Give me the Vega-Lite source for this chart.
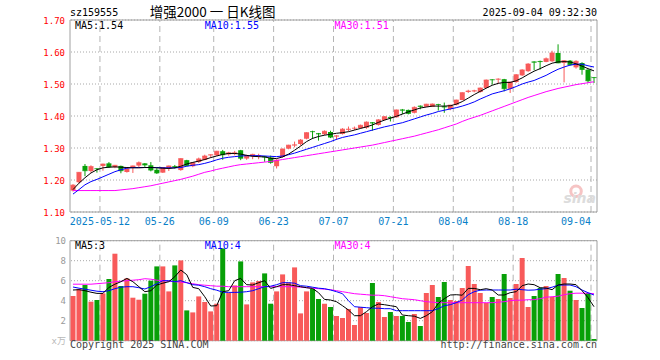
{
"$schema": "https://vega.github.io/schema/vega-lite/v6.json",
"width": 527,
"height": 321,
"autosize": {"type": "none"},
"padding": {"left": 70, "top": 20, "right": 63, "bottom": 19},
"background": "white",
"config": {"view": {"stroke": null}, "font": "DejaVu Sans Mono", "text": {"font": "DejaVu Sans Mono", "fontSize": 10}},
"datasets": {
"grid": [{"g": "2025-05-12", "lab": "2025-05-12"}, {"g": "2025-05-26", "lab": "05-26"}, {"g": "2025-06-09", "lab": "06-09"}, {"g": "2025-06-23", "lab": "06-23"}, {"g": "2025-07-07", "lab": "07-07"}, {"g": "2025-07-21", "lab": "07-21"}, {"g": "2025-08-04", "lab": "08-04"}, {"g": "2025-08-18", "lab": "08-18"}, {"g": "2025-09-04", "lab": "09-04"}],
"pt": [{"p": 1.1}, {"p": 1.2}, {"p": 1.3}, {"p": 1.4}, {"p": 1.5}, {"p": 1.6}, {"p": 1.7}],
"vt": [{"q": 0, "lab": "x万"}, {"q": 2, "lab": "2"}, {"q": 4, "lab": "4"}, {"q": 6, "lab": "6"}, {"q": 8, "lab": "8"}, {"q": 10, "lab": "10"}],
"k": [
{"d":"2025-04-30","o":1.167,"h":1.187,"l":1.164,"c":1.184,"v":4.47,"m5":1.170,"m10":1.156,"m30":1.167,"v5":5.07,"v10":5.37,"v30":5.65},
{"d":"2025-05-06","o":1.193,"h":1.225,"l":1.190,"c":1.224,"v":5.17,"m5":1.190,"m10":1.170,"m30":1.167,"v5":5.1,"v10":5.25,"v30":5.65},
{"d":"2025-05-07","o":1.244,"h":1.250,"l":1.212,"c":1.229,"v":5.57,"m5":1.207,"m10":1.185,"m30":1.167,"v5":5.0,"v10":5.15,"v30":5.65},
{"d":"2025-05-08","o":1.228,"h":1.246,"l":1.223,"c":1.242,"v":3.9,"m5":1.222,"m10":1.195,"m30":1.167,"v5":4.85,"v10":5.05,"v30":5.65},
{"d":"2025-05-09","o":1.236,"h":1.237,"l":1.223,"c":1.235,"v":4.07,"m5":1.232,"m10":1.202,"m30":1.167,"v5":4.73,"v10":4.95,"v30":5.7},
{"d":"2025-05-12","o":1.244,"h":1.251,"l":1.229,"c":1.250,"v":4.73,"m5":1.238,"m10":1.210,"m30":1.167,"v5":4.73,"v10":4.9,"v30":5.75},
{"d":"2025-05-13","o":1.252,"h":1.256,"l":1.238,"c":1.241,"v":6.17,"m5":1.240,"m10":1.218,"m30":1.167,"v5":5.33,"v10":5.0,"v30":5.8},
{"d":"2025-05-14","o":1.240,"h":1.247,"l":1.237,"c":1.246,"v":8.7,"m5":1.241,"m10":1.226,"m30":1.167,"v5":5.65,"v10":5.2,"v30":5.9},
{"d":"2025-05-15","o":1.244,"h":1.245,"l":1.221,"c":1.229,"v":5.47,"m5":1.240,"m10":1.232,"m30":1.169,"v5":5.9,"v10":5.35,"v30":5.95},
{"d":"2025-05-16","o":1.225,"h":1.237,"l":1.223,"c":1.235,"v":6.23,"m5":1.239,"m10":1.237,"m30":1.171,"v5":6.23,"v10":5.4,"v30":6.0},
{"d":"2025-05-19","o":1.2375,"h":1.245,"l":1.222,"c":1.244,"v":4.3,"m5":1.238,"m10":1.239,"m30":1.173,"v5":5.9,"v10":5.4,"v30":6.05},
{"d":"2025-05-20","o":1.245,"h":1.258,"l":1.240,"c":1.254,"v":4.1,"m5":1.238,"m10":1.239,"m30":1.176,"v5":5.4,"v10":5.3,"v30":6.1},
{"d":"2025-05-21","o":1.252,"h":1.253,"l":1.241,"c":1.247,"v":4.7,"m5":1.239,"m10":1.239,"m30":1.179,"v5":4.9,"v10":5.17,"v30":6.2},
{"d":"2025-05-22","o":1.246,"h":1.256,"l":1.227,"c":1.231,"v":6.0,"m5":1.239,"m10":1.239,"m30":1.182,"v5":5.0,"v10":5.4,"v30":6.15},
{"d":"2025-05-23","o":1.232,"h":1.237,"l":1.219,"c":1.222,"v":7.43,"m5":1.238,"m10":1.239,"m30":1.186,"v5":5.57,"v10":5.7,"v30":6.05},
{"d":"2025-05-26","o":1.223,"h":1.240,"l":1.222,"c":1.239,"v":7.43,"m5":1.237,"m10":1.238,"m30":1.190,"v5":5.75,"v10":6.0,"v30":6.0},
{"d":"2025-05-27","o":1.237,"h":1.245,"l":1.228,"c":1.244,"v":4.93,"m5":1.236,"m10":1.238,"m30":1.194,"v5":5.9,"v10":6.0,"v30":5.95},
{"d":"2025-05-28","o":1.243,"h":1.247,"l":1.236,"c":1.241,"v":7.53,"m5":1.238,"m10":1.238,"m30":1.198,"v5":6.4,"v10":5.9,"v30":5.9},
{"d":"2025-05-29","o":1.231,"h":1.268,"l":1.229,"c":1.267,"v":8.03,"m5":1.243,"m10":1.239,"m30":1.202,"v5":7.07,"v10":6.0,"v30":5.85},
{"d":"2025-05-30","o":1.262,"h":1.263,"l":1.243,"c":1.245,"v":3.03,"m5":1.250,"m10":1.243,"m30":1.207,"v5":6.6,"v10":5.8,"v30":5.8},
{"d":"2025-06-03","o":1.243,"h":1.256,"l":1.240,"c":1.254,"v":2.83,"m5":1.255,"m10":1.246,"m30":1.212,"v5":5.33,"v10":5.6,"v30":5.7},
{"d":"2025-06-04","o":1.256,"h":1.270,"l":1.253,"c":1.266,"v":4.43,"m5":1.259,"m10":1.248,"m30":1.218,"v5":5.2,"v10":5.55,"v30":5.6},
{"d":"2025-06-05","o":1.263,"h":1.279,"l":1.262,"c":1.275,"v":3.87,"m5":1.264,"m10":1.252,"m30":1.224,"v5":4.4,"v10":5.4,"v30":5.55},
{"d":"2025-06-06","o":1.277,"h":1.280,"l":1.269,"c":1.279,"v":2.93,"m5":1.270,"m10":1.257,"m30":1.228,"v5":3.47,"v10":5.2,"v30":5.5},
{"d":"2025-06-09","o":1.277,"h":1.291,"l":1.275,"c":1.290,"v":3.7,"m5":1.275,"m10":1.263,"m30":1.233,"v5":3.5,"v10":5.05,"v30":5.45},
{"d":"2025-06-10","o":1.290,"h":1.294,"l":1.263,"c":1.279,"v":9.23,"m5":1.280,"m10":1.268,"m30":1.237,"v5":4.9,"v10":4.85,"v30":5.45},
{"d":"2025-06-11","o":1.280,"h":1.288,"l":1.276,"c":1.285,"v":4.77,"m5":1.283,"m10":1.271,"m30":1.241,"v5":5.0,"v10":4.83,"v30":5.4},
{"d":"2025-06-12","o":1.281,"h":1.291,"l":1.277,"c":1.285,"v":5.53,"m5":1.283,"m10":1.273,"m30":1.245,"v5":6.0,"v10":4.83,"v30":5.4},
{"d":"2025-06-13","o":1.293,"h":1.294,"l":1.262,"c":1.268,"v":7.93,"m5":1.281,"m10":1.275,"m30":1.248,"v5":6.23,"v10":4.85,"v30":5.4},
{"d":"2025-06-16","o":1.267,"h":1.279,"l":1.263,"c":1.2765,"v":3.63,"m5":1.277,"m10":1.276,"m30":1.250,"v5":5.6,"v10":4.9,"v30":5.4},
{"d":"2025-06-17","o":1.275,"h":1.282,"l":1.265,"c":1.280,"v":5.83,"m5":1.274,"m10":1.276,"m30":1.252,"v5":5.57,"v10":5.0,"v30":5.4},
{"d":"2025-06-18","o":1.2755,"h":1.282,"l":1.265,"c":1.2765,"v":5.97,"m5":1.273,"m10":1.276,"m30":1.254,"v5":5.8,"v10":5.2,"v30":5.4},
{"d":"2025-06-19","o":1.274,"h":1.2755,"l":1.257,"c":1.272,"v":6.73,"m5":1.272,"m10":1.275,"m30":1.256,"v5":6.0,"v10":5.4,"v30":5.4},
{"d":"2025-06-20","o":1.270,"h":1.276,"l":1.251,"c":1.255,"v":3.7,"m5":1.268,"m10":1.274,"m30":1.258,"v5":5.23,"v10":5.45,"v30":5.4},
{"d":"2025-06-23","o":1.243,"h":1.265,"l":1.236,"c":1.262,"v":4.93,"m5":1.267,"m10":1.273,"m30":1.261,"v5":5.4,"v10":5.6,"v30":5.4},
{"d":"2025-06-24","o":1.272,"h":1.298,"l":1.270,"c":1.297,"v":6.63,"m5":1.272,"m10":1.275,"m30":1.264,"v5":5.6,"v10":5.8,"v30":5.4},
{"d":"2025-06-25","o":1.298,"h":1.310,"l":1.296,"c":1.309,"v":5.83,"m5":1.281,"m10":1.279,"m30":1.267,"v5":5.6,"v10":5.8,"v30":5.4},
{"d":"2025-06-26","o":1.308,"h":1.320,"l":1.302,"c":1.310,"v":7.33,"m5":1.293,"m10":1.284,"m30":1.270,"v5":5.5,"v10":5.75,"v30":5.4},
{"d":"2025-06-27","o":1.3125,"h":1.328,"l":1.308,"c":1.325,"v":2.73,"m5":1.306,"m10":1.290,"m30":1.273,"v5":5.4,"v10":5.5,"v30":5.35},
{"d":"2025-06-30","o":1.329,"h":1.349,"l":1.327,"c":1.348,"v":4.93,"m5":1.320,"m10":1.296,"m30":1.276,"v5":5.3,"v10":5.45,"v30":5.3},
{"d":"2025-07-01","o":1.352,"h":1.354,"l":1.328,"c":1.351,"v":5.17,"m5":1.330,"m10":1.302,"m30":1.279,"v5":5.23,"v10":5.35,"v30":5.25},
{"d":"2025-07-02","o":1.346,"h":1.347,"l":1.323,"c":1.344,"v":4.17,"m5":1.336,"m10":1.308,"m30":1.282,"v5":4.8,"v10":5.25,"v30":5.2},
{"d":"2025-07-03","o":1.343,"h":1.355,"l":1.340,"c":1.352,"v":3.7,"m5":1.340,"m10":1.314,"m30":1.285,"v5":4.13,"v10":5.2,"v30":5.15},
{"d":"2025-07-04","o":1.350,"h":1.354,"l":1.331,"c":1.334,"v":3.37,"m5":1.343,"m10":1.320,"m30":1.288,"v5":4.07,"v10":5.07,"v30":5.1},
{"d":"2025-07-07","o":1.336,"h":1.340,"l":1.325,"c":1.338,"v":2.47,"m5":1.346,"m10":1.327,"m30":1.291,"v5":3.9,"v10":4.9,"v30":5.0},
{"d":"2025-07-08","o":1.344,"h":1.362,"l":1.342,"c":1.359,"v":2.27,"m5":1.348,"m10":1.333,"m30":1.294,"v5":3.5,"v10":4.7,"v30":4.9},
{"d":"2025-07-09","o":1.357,"h":1.367,"l":1.352,"c":1.359,"v":3.17,"m5":1.351,"m10":1.337,"m30":1.297,"v5":3.07,"v10":4.0,"v30":4.8},
{"d":"2025-07-10","o":1.361,"h":1.367,"l":1.356,"c":1.362,"v":1.57,"m5":1.356,"m10":1.341,"m30":1.300,"v5":2.5,"v10":3.4,"v30":4.7},
{"d":"2025-07-11","o":1.3625,"h":1.373,"l":1.360,"c":1.371,"v":3.37,"m5":1.361,"m10":1.346,"m30":1.303,"v5":2.5,"v10":3.35,"v30":4.65},
{"d":"2025-07-14","o":1.3635,"h":1.383,"l":1.360,"c":1.381,"v":2.77,"m5":1.366,"m10":1.351,"m30":1.306,"v5":2.9,"v10":3.3,"v30":4.6},
{"d":"2025-07-15","o":1.380,"h":1.381,"l":1.354,"c":1.378,"v":5.77,"m5":1.372,"m10":1.356,"m30":1.309,"v5":3.4,"v10":3.25,"v30":4.55},
{"d":"2025-07-16","o":1.372,"h":1.390,"l":1.370,"c":1.388,"v":3.87,"m5":1.380,"m10":1.361,"m30":1.313,"v5":3.67,"v10":3.25,"v30":4.55},
{"d":"2025-07-17","o":1.3875,"h":1.399,"l":1.386,"c":1.398,"v":2.37,"m5":1.387,"m10":1.366,"m30":1.317,"v5":3.6,"v10":3.2,"v30":4.5},
{"d":"2025-07-18","o":1.397,"h":1.399,"l":1.383,"c":1.395,"v":2.87,"m5":1.393,"m10":1.370,"m30":1.321,"v5":3.5,"v10":3.2,"v30":4.4},
{"d":"2025-07-21","o":1.396,"h":1.420,"l":1.395,"c":1.419,"v":2.47,"m5":1.399,"m10":1.375,"m30":1.325,"v5":3.4,"v10":3.0,"v30":4.3},
{"d":"2025-07-22","o":1.420,"h":1.422,"l":1.406,"c":1.418,"v":2.47,"m5":1.406,"m10":1.379,"m30":1.329,"v5":2.57,"v10":3.0,"v30":4.2},
{"d":"2025-07-23","o":1.419,"h":1.420,"l":1.405,"c":1.408,"v":1.87,"m5":1.413,"m10":1.385,"m30":1.333,"v5":2.5,"v10":3.0,"v30":4.15},
{"d":"2025-07-24","o":1.410,"h":1.430,"l":1.408,"c":1.427,"v":2.67,"m5":1.419,"m10":1.391,"m30":1.337,"v5":2.45,"v10":3.0,"v30":4.1},
{"d":"2025-07-25","o":1.432,"h":1.433,"l":1.421,"c":1.430,"v":1.47,"m5":1.425,"m10":1.397,"m30":1.342,"v5":2.23,"v10":3.0,"v30":4.0},
{"d":"2025-07-28","o":1.429,"h":1.438,"l":1.428,"c":1.437,"v":4.77,"m5":1.428,"m10":1.403,"m30":1.347,"v5":2.5,"v10":3.0,"v30":3.9},
{"d":"2025-07-29","o":1.429,"h":1.439,"l":1.428,"c":1.4375,"v":5.57,"m5":1.431,"m10":1.408,"m30":1.352,"v5":2.9,"v10":3.0,"v30":3.85},
{"d":"2025-07-30","o":1.437,"h":1.438,"l":1.417,"c":1.436,"v":4.37,"m5":1.431,"m10":1.414,"m30":1.357,"v5":3.73,"v10":3.2,"v30":3.8},
{"d":"2025-07-31","o":1.430,"h":1.442,"l":1.410,"c":1.428,"v":5.87,"m5":1.431,"m10":1.418,"m30":1.363,"v5":4.2,"v10":3.5,"v30":3.8},
{"d":"2025-08-01","o":1.422,"h":1.435,"l":1.418,"c":1.434,"v":4.07,"m5":1.432,"m10":1.422,"m30":1.369,"v5":4.57,"v10":3.6,"v30":3.8},
{"d":"2025-08-04","o":1.435,"h":1.451,"l":1.433,"c":1.450,"v":3.97,"m5":1.437,"m10":1.426,"m30":1.375,"v5":4.6,"v10":3.8,"v30":3.8},
{"d":"2025-08-05","o":1.450,"h":1.474,"l":1.449,"c":1.473,"v":5.27,"m5":1.445,"m10":1.431,"m30":1.383,"v5":4.55,"v10":4.07,"v30":3.8},
{"d":"2025-08-06","o":1.475,"h":1.482,"l":1.472,"c":1.478,"v":7.47,"m5":1.456,"m10":1.437,"m30":1.390,"v5":5.23,"v10":4.6,"v30":3.8},
{"d":"2025-08-07","o":1.477,"h":1.482,"l":1.474,"c":1.479,"v":5.67,"m5":1.467,"m10":1.444,"m30":1.396,"v5":5.23,"v10":4.9,"v30":3.8},
{"d":"2025-08-08","o":1.475,"h":1.489,"l":1.473,"c":1.4875,"v":4.77,"m5":1.477,"m10":1.453,"m30":1.402,"v5":5.1,"v10":5.05,"v30":3.8},
{"d":"2025-08-11","o":1.4875,"h":1.514,"l":1.486,"c":1.5125,"v":3.77,"m5":1.487,"m10":1.461,"m30":1.409,"v5":5.2,"v10":5.07,"v30":3.8},
{"d":"2025-08-12","o":1.514,"h":1.515,"l":1.498,"c":1.513,"v":4.37,"m5":1.496,"m10":1.469,"m30":1.416,"v5":5.07,"v10":5.07,"v30":3.8},
{"d":"2025-08-13","o":1.514,"h":1.518,"l":1.501,"c":1.5155,"v":4.17,"m5":1.502,"m10":1.474,"m30":1.423,"v5":4.57,"v10":5.07,"v30":3.85},
{"d":"2025-08-14","o":1.515,"h":1.516,"l":1.477,"c":1.4855,"v":6.67,"m5":1.505,"m10":1.479,"m30":1.430,"v5":4.57,"v10":5.07,"v30":3.9},
{"d":"2025-08-15","o":1.485,"h":1.507,"l":1.472,"c":1.506,"v":4.27,"m5":1.505,"m10":1.485,"m30":1.437,"v5":4.8,"v10":5.07,"v30":4.0},
{"d":"2025-08-18","o":1.506,"h":1.531,"l":1.504,"c":1.529,"v":5.67,"m5":1.510,"m10":1.492,"m30":1.444,"v5":4.9,"v10":5.15,"v30":4.05},
{"d":"2025-08-19","o":1.527,"h":1.546,"l":1.525,"c":1.544,"v":8.27,"m5":1.519,"m10":1.500,"m30":1.451,"v5":5.5,"v10":5.1,"v30":4.05},
{"d":"2025-08-20","o":1.540,"h":1.565,"l":1.538,"c":1.5625,"v":3.37,"m5":1.530,"m10":1.506,"m30":1.458,"v5":5.67,"v10":5.05,"v30":4.1},
{"d":"2025-08-21","o":1.570,"h":1.571,"l":1.543,"c":1.568,"v":4.47,"m5":1.540,"m10":1.511,"m30":1.464,"v5":5.6,"v10":5.07,"v30":4.1},
{"d":"2025-08-22","o":1.572,"h":1.573,"l":1.545,"c":1.570,"v":5.27,"m5":1.548,"m10":1.519,"m30":1.470,"v5":5.3,"v10":5.15,"v30":4.2},
{"d":"2025-08-25","o":1.569,"h":1.583,"l":1.568,"c":1.579,"v":5.47,"m5":1.557,"m10":1.527,"m30":1.476,"v5":5.27,"v10":5.2,"v30":4.35},
{"d":"2025-08-26","o":1.571,"h":1.604,"l":1.569,"c":1.597,"v":4.37,"m5":1.565,"m10":1.537,"m30":1.481,"v5":5.1,"v10":5.35,"v30":4.4},
{"d":"2025-08-27","o":1.597,"h":1.624,"l":1.565,"c":1.566,"v":6.67,"m5":1.569,"m10":1.546,"m30":1.486,"v5":5.57,"v10":5.55,"v30":4.45},
{"d":"2025-08-28","o":1.566,"h":1.575,"l":1.505,"c":1.573,"v":6.27,"m5":1.570,"m10":1.553,"m30":1.490,"v5":5.67,"v10":5.57,"v30":4.6},
{"d":"2025-08-29","o":1.573,"h":1.575,"l":1.558,"c":1.560,"v":5.0,"m5":1.569,"m10":1.559,"m30":1.494,"v5":5.67,"v10":5.57,"v30":4.7},
{"d":"2025-09-01","o":1.552,"h":1.574,"l":1.548,"c":1.571,"v":4.07,"m5":1.563,"m10":1.562,"m30":1.498,"v5":5.6,"v10":5.4,"v30":4.75},
{"d":"2025-09-02","o":1.566,"h":1.568,"l":1.529,"c":1.545,"v":3.27,"m5":1.556,"m10":1.562,"m30":1.501,"v5":5.0,"v10":5.07,"v30":4.75},
{"d":"2025-09-03","o":1.545,"h":1.546,"l":1.503,"c":1.510,"v":4.77,"m5":1.548,"m10":1.557,"m30":1.504,"v5":4.3,"v10":4.8,"v30":4.75},
{"d":"2025-09-04","o":1.521,"h":1.522,"l":1.503,"c":1.520,"v":0.17,"m5":1.541,"m10":1.553,"m30":1.507,"v5":3.4,"v10":4.57,"v30":4.7}
]
},
"layer": [
{
"layer": [
  {"data": {"name": "pt"}, "mark": {"type": "rule", "color": "#a8a8a8", "strokeDash": [1, 2], "strokeWidth": 1},
   "encoding": {"y": {"field": "p", "type": "quantitative", "scale": {"domain": [1.1, 1.7], "range": [192, 0], "zero": false, "nice": false}, "axis": null}}},
  {"data": {"name": "grid"}, "mark": {"type": "rule", "color": "#b4b4b4", "strokeDash": [6, 4], "strokeWidth": 1},
   "encoding": {"x": {"field": "g", "type": "ordinal", "bandPosition": 0, "scale": {"type": "band", "paddingInner": 0, "paddingOuter": 0}, "axis": null},
     "y": {"datum": 1.1, "type": "quantitative", "axis": null}, "y2": {"datum": 1.7}}},
  {"data": {"values": [{}]}, "mark": {"type": "rule", "color": "#a0a0a0"}, "encoding": {"y": {"datum": 1.7, "type": "quantitative", "axis": null}}},
  {"data": {"values": [{}]}, "mark": {"type": "rule", "color": "#a0a0a0"}, "encoding": {"y": {"datum": 1.1, "type": "quantitative", "axis": null}}},
  {"data": {"values": [{}]}, "mark": {"type": "rule", "color": "#a0a0a0"}, "encoding": {"x": {"datum": "2025-04-30", "type": "ordinal", "bandPosition": 0, "axis": null}, "y": {"datum": 1.1, "type": "quantitative", "axis": null}, "y2": {"datum": 1.7}}},
  {"data": {"values": [{}]}, "mark": {"type": "rule", "color": "#a0a0a0"}, "encoding": {"x": {"datum": "2025-09-04", "type": "ordinal", "bandPosition": 1, "axis": null}, "y": {"datum": 1.1, "type": "quantitative", "axis": null}, "y2": {"datum": 1.7}}},
  {"data": {"name": "pt"}, "mark": {"type": "text", "align": "right", "baseline": "middle", "dx": -5, "dy": 1, "fontSize": 9, "color": "#ff0000"},
   "encoding": {"x": {"datum": "2025-04-30", "type": "ordinal", "bandPosition": 0, "axis": null}, "y": {"field": "p", "type": "quantitative", "axis": null}, "text": {"field": "p", "type": "quantitative", "format": ".2f"}}},
  {"data": {"name": "grid"}, "transform": [{"filter": "datum.g != '2025-09-04'"}], "mark": {"type": "text", "align": "center", "baseline": "middle", "dy": 10, "fontSize": 10, "color": "#0a7fc8"},
   "encoding": {"x": {"field": "g", "type": "ordinal", "bandPosition": 0, "axis": null}, "y": {"datum": 1.1, "type": "quantitative", "axis": null}, "text": {"field": "lab"}}},
  {"data": {"name": "grid"}, "transform": [{"filter": "datum.g == '2025-09-04'"}], "mark": {"type": "text", "align": "right", "baseline": "middle", "dy": 10, "fontSize": 10, "color": "#0a7fc8"},
   "encoding": {"x": {"field": "g", "type": "ordinal", "bandPosition": 0, "axis": null}, "y": {"datum": 1.1, "type": "quantitative", "axis": null}, "text": {"field": "lab"}}},
  {"data": {"values": [{}]}, "mark": {"type": "point", "shape": "circle", "filled": false, "size": 110, "strokeWidth": 3, "color": "#f6c4c4", "opacity": 1},
   "encoding": {"x": {"datum": "2025-09-01", "type": "ordinal", "axis": null}, "y": {"datum": 1.165, "type": "quantitative", "axis": null}}},
  {"data": {"values": [{"t": "sina"}]}, "mark": {"type": "text", "align": "right", "baseline": "middle", "dx": 2, "fontSize": 14, "fontWeight": "bold", "fontStyle": "italic", "font": "DejaVu Sans", "color": "#dcdcdc"},
   "encoding": {"x": {"datum": "2025-09-04", "type": "ordinal", "axis": null}, "y": {"datum": 1.142, "type": "quantitative", "axis": null}, "text": {"field": "t"}}},
  {"data": {"name": "k"}, "mark": {"type": "rule", "strokeWidth": 1},
   "encoding": {"x": {"field": "d", "type": "ordinal", "axis": null}, "y": {"field": "l", "type": "quantitative", "axis": null}, "y2": {"field": "h"},
     "color": {"condition": {"test": "datum.c >= datum.o", "value": "#f85a5a"}, "value": "#08a008"}}},
  {"data": {"name": "k"}, "mark": {"type": "bar", "width": 5},
   "encoding": {"x": {"field": "d", "type": "ordinal", "axis": null}, "y": {"field": "o", "type": "quantitative", "axis": null}, "y2": {"field": "c"},
     "color": {"condition": {"test": "datum.c >= datum.o", "value": "#f85a5a"}, "value": "#08a008"}}},
  {"data": {"name": "k"}, "mark": {"type": "tick", "thickness": 1, "size": 5},
   "encoding": {"x": {"field": "d", "type": "ordinal", "axis": null}, "y": {"field": "c", "type": "quantitative", "axis": null},
     "color": {"condition": {"test": "datum.c >= datum.o", "value": "#f85a5a"}, "value": "#08a008"}}},
  {"data": {"name": "k"}, "mark": {"type": "line", "color": "#ff00ff", "strokeWidth": 1}, "encoding": {"x": {"field": "d", "type": "ordinal", "axis": null}, "y": {"field": "m30", "type": "quantitative", "axis": null}}},
  {"data": {"name": "k"}, "mark": {"type": "line", "color": "#0000ff", "strokeWidth": 1}, "encoding": {"x": {"field": "d", "type": "ordinal", "axis": null}, "y": {"field": "m10", "type": "quantitative", "axis": null}}},
  {"data": {"name": "k"}, "mark": {"type": "line", "color": "#000000", "strokeWidth": 1}, "encoding": {"x": {"field": "d", "type": "ordinal", "axis": null}, "y": {"field": "m5", "type": "quantitative", "axis": null}}},
  {"data": {"values": [{"t": "MA5:1.54"}]}, "mark": {"type": "text", "align": "left", "baseline": "middle", "dx": 2, "color": "#000000"},
   "encoding": {"x": {"datum": "2025-04-30", "type": "ordinal", "axis": null}, "y": {"datum": 1.681, "type": "quantitative", "axis": null}, "text": {"field": "t"}}},
  {"data": {"values": [{"t": "MA10:1.55"}]}, "mark": {"type": "text", "align": "left", "baseline": "middle", "dx": 0, "color": "#0000ff"},
   "encoding": {"x": {"datum": "2025-06-05", "type": "ordinal", "axis": null}, "y": {"datum": 1.681, "type": "quantitative", "axis": null}, "text": {"field": "t"}}},
  {"data": {"values": [{"t": "MA30:1.51"}]}, "mark": {"type": "text", "align": "left", "baseline": "middle", "dx": -2, "color": "#ff00ff"},
   "encoding": {"x": {"datum": "2025-07-07", "type": "ordinal", "axis": null}, "y": {"datum": 1.681, "type": "quantitative", "axis": null}, "text": {"field": "t"}}},
  {"data": {"values": [{"t": "sz159555"}]}, "mark": {"type": "text", "align": "left", "baseline": "middle", "dx": -3, "color": "#000000"},
   "encoding": {"x": {"datum": "2025-04-30", "type": "ordinal", "axis": null}, "y": {"datum": 1.722, "type": "quantitative", "axis": null}, "text": {"field": "t"}}},
  {"data": {"values": [{"t": "增强2000 一 日K线图"}]}, "mark": {"type": "text", "align": "left", "baseline": "middle", "dx": -1, "font": "Noto Sans CJK SC", "fontSize": 13.5, "color": "#000000"},
   "encoding": {"x": {"datum": "2025-05-22", "type": "ordinal", "axis": null}, "y": {"datum": 1.723, "type": "quantitative", "axis": null}, "text": {"field": "t"}}},
  {"data": {"values": [{"t": "2025-09-04 09:32:30"}]}, "mark": {"type": "text", "align": "right", "baseline": "middle", "dx": 3, "color": "#000000"},
   "encoding": {"x": {"datum": "2025-09-04", "type": "ordinal", "axis": null}, "y": {"datum": 1.723, "type": "quantitative", "axis": null}, "text": {"field": "t"}}}
]
},
{
"layer": [
  {"data": {"name": "vt"}, "mark": {"type": "rule", "color": "#a8a8a8", "strokeDash": [1, 2], "strokeWidth": 1},
   "encoding": {"y": {"field": "q", "type": "quantitative", "scale": {"domain": [0, 10], "range": [320.7, 220.7], "zero": false, "nice": false}, "axis": null}}},
  {"data": {"name": "grid"}, "mark": {"type": "rule", "color": "#b4b4b4", "strokeDash": [6, 4], "strokeWidth": 1},
   "encoding": {"x": {"field": "g", "type": "ordinal", "bandPosition": 0, "axis": null},
     "y": {"datum": 0, "type": "quantitative", "axis": null}, "y2": {"datum": 10}}},
  {"data": {"values": [{}]}, "mark": {"type": "rule", "color": "#a0a0a0"}, "encoding": {"y": {"datum": 10, "type": "quantitative", "axis": null}}},
  {"data": {"values": [{}]}, "mark": {"type": "rule", "color": "#a0a0a0"}, "encoding": {"y": {"datum": 0, "type": "quantitative", "axis": null}}},
  {"data": {"values": [{}]}, "mark": {"type": "rule", "color": "#a0a0a0"}, "encoding": {"x": {"datum": "2025-04-30", "type": "ordinal", "bandPosition": 0, "axis": null}, "y": {"datum": 0, "type": "quantitative", "axis": null}, "y2": {"datum": 10}}},
  {"data": {"values": [{}]}, "mark": {"type": "rule", "color": "#a0a0a0"}, "encoding": {"x": {"datum": "2025-09-04", "type": "ordinal", "bandPosition": 1, "axis": null}, "y": {"datum": 0, "type": "quantitative", "axis": null}, "y2": {"datum": 10}}},
  {"data": {"name": "vt"}, "mark": {"type": "text", "align": "right", "baseline": "middle", "dx": -4, "fontSize": 9, "font": "DejaVu Sans Mono, Noto Sans CJK SC"},
   "encoding": {"x": {"datum": "2025-04-30", "type": "ordinal", "bandPosition": 0, "axis": null}, "y": {"field": "q", "type": "quantitative", "axis": null}, "text": {"field": "lab"},
     "color": {"condition": {"test": "datum.q == 0", "value": "#b8b8b8"}, "value": "#999999"}}},
  {"data": {"name": "k"}, "mark": {"type": "bar", "width": 5},
   "encoding": {"x": {"field": "d", "type": "ordinal", "axis": null},
     "y": {"field": "v", "type": "quantitative", "axis": null},
     "color": {"condition": {"test": "datum.c >= datum.o", "value": "#f85a5a"}, "value": "#08a008"}}},
  {"data": {"name": "k"}, "mark": {"type": "line", "color": "#ff00ff", "strokeWidth": 1}, "encoding": {"x": {"field": "d", "type": "ordinal", "axis": null}, "y": {"field": "v30", "type": "quantitative", "axis": null}}},
  {"data": {"name": "k"}, "mark": {"type": "line", "color": "#0000ff", "strokeWidth": 1}, "encoding": {"x": {"field": "d", "type": "ordinal", "axis": null}, "y": {"field": "v10", "type": "quantitative", "axis": null}}},
  {"data": {"name": "k"}, "mark": {"type": "line", "color": "#000000", "strokeWidth": 1}, "encoding": {"x": {"field": "d", "type": "ordinal", "axis": null}, "y": {"field": "v5", "type": "quantitative", "axis": null}}},
  {"data": {"values": [{"t": "MA5:3"}]}, "mark": {"type": "text", "align": "left", "baseline": "middle", "dx": 2, "color": "#000000"},
   "encoding": {"x": {"datum": "2025-04-30", "type": "ordinal", "axis": null}, "y": {"datum": 9.44, "type": "quantitative", "axis": null}, "text": {"field": "t"}}},
  {"data": {"values": [{"t": "MA10:4"}]}, "mark": {"type": "text", "align": "left", "baseline": "middle", "dx": 0, "color": "#0000ff"},
   "encoding": {"x": {"datum": "2025-06-05", "type": "ordinal", "axis": null}, "y": {"datum": 9.44, "type": "quantitative", "axis": null}, "text": {"field": "t"}}},
  {"data": {"values": [{"t": "MA30:4"}]}, "mark": {"type": "text", "align": "left", "baseline": "middle", "dx": -2, "color": "#ff00ff"},
   "encoding": {"x": {"datum": "2025-07-07", "type": "ordinal", "axis": null}, "y": {"datum": 9.44, "type": "quantitative", "axis": null}, "text": {"field": "t"}}},
  {"data": {"values": [{"t": "Copyright 2025 SINA.COM"}]}, "mark": {"type": "text", "align": "left", "baseline": "middle", "dx": -3, "color": "#444444"},
   "encoding": {"x": {"datum": "2025-04-30", "type": "ordinal", "axis": null}, "y": {"datum": -0.45, "type": "quantitative", "axis": null}, "text": {"field": "t"}}},
  {"data": {"values": [{"t": "http://finance.sina.com.cn"}]}, "mark": {"type": "text", "align": "right", "baseline": "middle", "dx": 3, "color": "#444444"},
   "encoding": {"x": {"datum": "2025-09-04", "type": "ordinal", "axis": null}, "y": {"datum": -0.45, "type": "quantitative", "axis": null}, "text": {"field": "t"}}}
]
}
],
"resolve": {"scale": {"y": "independent"}}
}
